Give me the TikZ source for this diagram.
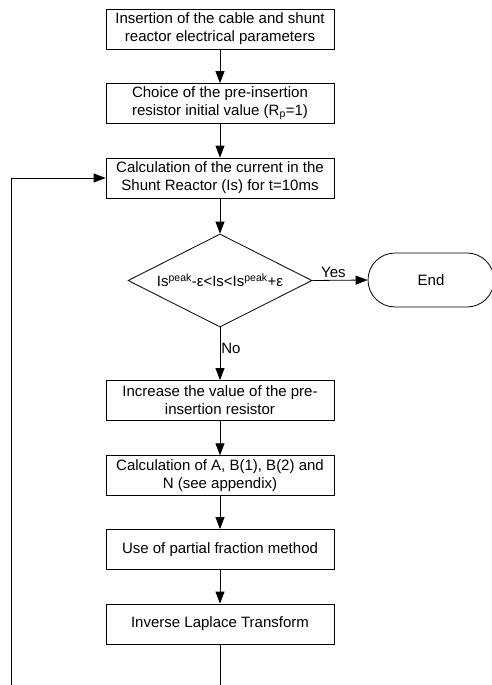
\documentclass[tikz,border=0pt]{standalone}
\usepackage{fontspec}
\setmainfont{Liberation Sans}
\usetikzlibrary{shapes.geometric,arrows.meta}
\begin{document}
\begin{tikzpicture}[x=1pt,y=-1pt,
  every node/.style={font=\fontsize{15}{18}\selectfont},
  stepbox/.style={draw,line width=0.8pt,rectangle,minimum width=228pt,minimum height=40pt,inner sep=2pt,align=center},
  decide/.style={draw,line width=0.8pt,diamond,aspect=2,minimum width=184pt,minimum height=93pt,inner sep=0pt},
  terminal/.style={draw,line width=0.8pt,rectangle,rounded corners=27pt,minimum width=126pt,minimum height=54pt},
  arr/.style={line width=0.8pt,-{Triangle[length=12pt,width=9pt]}},
  ln/.style={line width=0.8pt}]
\useasboundingbox (0,0) rectangle (492,685);
\node[stepbox] (b1) at (220,29) {Insertion of the cable and shunt\\reactor electrical parameters};
\node[stepbox] (b2) at (220,103.5) {Choice of the pre-insertion\\resistor initial value (R\textsubscript{p}=1)};
\node[stepbox] (b3) at (220,178) {Calculation of the current in the\\Shunt Reactor (Is) for t=10ms};
\node[decide] (d) at (220,280.5) {Is\textsuperscript{peak}-ε<Is<Is\textsuperscript{peak}+ε};
\node[terminal] (end) at (431,280) {End};
\node[stepbox] (b4) at (220,400.5) {Increase the value of the pre-\\insertion resistor};
\node[stepbox] (b5) at (220,475.7) {Calculation of A, B(1), B(2) and\\N (see appendix)};
\node[stepbox] (b6) at (220,549.5) {Use of partial fraction method};
\node[stepbox] (b7) at (220,624) {Inverse Laplace Transform};
\coordinate (bot) at (220,686);
\coordinate (botL) at (11,686);
\draw[arr] (b1) -- (b2);
\draw[arr] (b2) -- (b3);
\draw[arr] (b3) -- (d.north);
\draw[arr] (d.east) -- node[above,pos=0.38,inner sep=2pt] (yes) {Yes} (end.west);
\draw[arr] (d.south) -- node[right,pos=0.4,inner sep=1pt] (no) {No} (b4.north);
\draw[arr] (b4) -- (b5);
\draw[arr] (b5) -- (b6);
\draw[arr] (b6) -- (b7);
\draw[ln] (b7.south) -- (bot);
\draw[arr] (botL) |- (b3.west);
\end{tikzpicture}
\end{document}
